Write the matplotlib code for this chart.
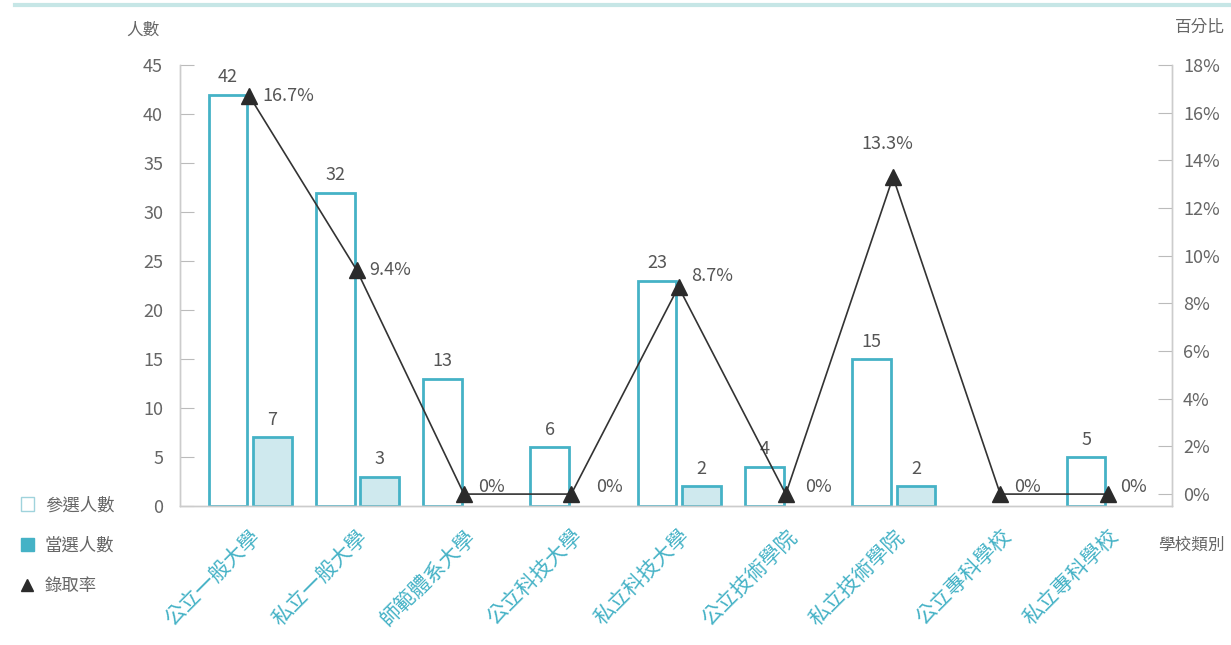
import numpy as np
import matplotlib.pyplot as plt
from matplotlib.lines import Line2D
from matplotlib.patches import Patch

plt.rcParams['font.family'] = ['Noto Sans CJK TC', 'DejaVu Sans']

# data
schools = ['公立一般大學', '私立一般大學', '師範體系大學', '公立科技大學', '私立科技大學',
           '公立技術學院', '私立技術學院', '公立專科學校', '私立專科學校']
candidates = [42, 32, 13, 6, 23, 4, 15, 0, 5]
elected = [7, 3, 0, 0, 2, 0, 2, 0, 0]
rate = [16.7, 9.4, 0, 0, 8.7, 0, 13.3, 0, 0]
rate_labels = ['16.7%', '9.4%', '0%', '0%', '8.7%', '0%', '13.3%', '0%', '0%']

teal = '#45b2c6'
teal_fill = '#cfe9ee'
gray = '#666666'

fig = plt.figure(figsize=(12.31, 6.45), dpi=100)
ax = fig.add_axes([0.146, 0.2155, 0.806, 0.6835])
ax2 = ax.twinx()

x = np.arange(len(schools))
w = 0.36
cand = np.array(candidates)
elec = np.array(elected)
# zero-height bars are not drawn in the original
ax.bar(x[cand > 0] - 0.2, cand[cand > 0], width=w, facecolor='white',
       edgecolor=teal, lw=2, zorder=2)
ax.bar(x[elec > 0] + 0.215, elec[elec > 0], width=w, facecolor=teal_fill,
       edgecolor=teal, lw=2, zorder=2)

for xi, v in zip(x, candidates):
    if v > 0:
        ax.annotate(str(v), (xi - 0.2, v), xytext=(0, 6), textcoords='offset points',
                    ha='center', va='bottom', fontsize=13, color='#555555')
for xi, v in zip(x, elected):
    if v > 0:
        ax.annotate(str(v), (xi + 0.215, v), xytext=(0, 6), textcoords='offset points',
                    ha='center', va='bottom', fontsize=13, color='#555555')

ax2.plot(x, rate, color='#333333', lw=1.2, marker='^', markersize=11,
         markerfacecolor='#2b2b2b', markeredgecolor='#2b2b2b', zorder=5, clip_on=False)

# label offsets (points) for the percentage texts
offs = [(9, 0), (9, 0), (10, 5), (18, 5), (9, 8), (14, 5), (-4, 24), (10, 5), (9, 5)]
for xi, v, lab, (dx, dy) in zip(x, rate, rate_labels, offs):
    ha = 'center' if dy > 20 else 'left'
    ax2.annotate(lab, (xi, v), xytext=(dx, dy), textcoords='offset points',
                 ha=ha, va='center', fontsize=13, color='#555555')

ax.set_xlim(-0.65, 8.6)
ax.set_ylim(0, 45)
ax2.set_ylim(-0.5, 18)
ax.set_yticks(range(0, 46, 5))
ax2.set_yticks(range(0, 19, 2))
ax2.set_yticklabels([f'{t}%' for t in range(0, 19, 2)])

ax.set_xticks(x)
ax.set_xticklabels(schools, rotation=45, ha='right', rotation_mode='anchor',
                   color=teal, fontsize=15)
ax.tick_params(axis='x', length=0, pad=14)
ax.tick_params(axis='y', direction='in', length=10, color='#bbbbbb', labelcolor=gray,
               labelsize=13, pad=12)
ax2.tick_params(axis='y', direction='in', length=10, color='#bbbbbb', labelcolor=gray,
                labelsize=13, pad=8)

for a in (ax, ax2):
    a.spines['top'].set_visible(False)
    for s in ('left', 'right', 'bottom'):
        a.spines[s].set_color('#cccccc')
        a.spines[s].set_linewidth(1)

fig.text(0.13, 0.953, '人數', ha='right', va='center', fontsize=12, color=gray)
fig.text(0.995, 0.957, '百分比', ha='right', va='center', fontsize=12, color=gray)
fig.text(0.995, 0.155, '學校類別', ha='right', va='center', fontsize=12, color=gray)

# decorative rule along the top
fig.add_artist(Line2D([0.012, 1.0], [0.992, 0.992], color='#c6e6e6', lw=3))

handles = [Patch(facecolor='white', edgecolor='#9fd3dc', lw=1),
           Patch(facecolor=teal, edgecolor=teal),
           Line2D([], [], ls='none', marker='^', color='#2b2b2b', markersize=9)]
leg = fig.legend(handles, ['參選人數', '當選人數', '錄取率'], loc='upper left',
                 bbox_to_anchor=(0.004, 0.255), frameon=False, fontsize=12.5,
                 labelspacing=1.3, handlelength=0.8, handleheight=0.8, handletextpad=0.6)
for t in leg.get_texts():
    t.set_color(gray)

fig.savefig('out.png', dpi=100)
